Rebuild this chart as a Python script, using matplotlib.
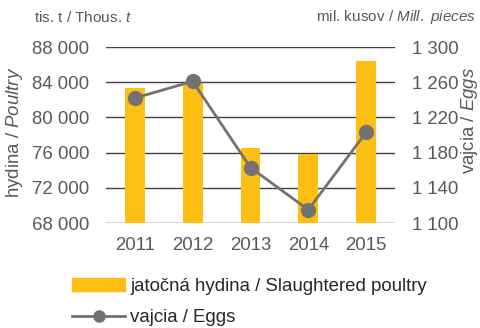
import matplotlib.pyplot as plt
from matplotlib.patches import Patch
from matplotlib.lines import Line2D

plt.rcParams['font.family'] = ['Liberation Sans', 'DejaVu Sans']
plt.rcParams['mathtext.fontset'] = 'custom'
plt.rcParams['mathtext.rm'] = 'Liberation Sans'
plt.rcParams['mathtext.it'] = 'Liberation Sans:italic'

years = ['2011', '2012', '2013', '2014', '2015']
poultry = [83300, 83900, 76500, 75800, 86400]   # tis. t
eggs = [1242, 1261, 1163, 1115, 1203]           # mil. kusov

left_ticks = [68000, 72000, 76000, 80000, 84000, 88000]
right_ticks = [1100, 1140, 1180, 1220, 1260, 1300]

txt = '#595959'
bar_col = '#FDBF13'
line_col = '#767171'
grid_col = '#404040'
fs = 13.4

def fmt(v):
    return f'{v:,}'.replace(',', ' ')

fig = plt.figure(figsize=(4.8, 3.28), dpi=100)
W, H = 480, 328
ax = fig.add_axes([106 / W, 1 - 223 / H, 289 / W, 176 / H])
x = range(len(years))

ax.bar(x, poultry, width=0.34, color=bar_col, zorder=2)
ax.set_ylim(68000, 88000)
ax.set_xlim(-0.5, 4.5)
ax.set_yticks(left_ticks)
ax.set_yticklabels([fmt(v) for v in left_ticks])
ax.set_xticks(list(x))
ax.set_xticklabels(years)
for v in left_ticks:
    ax.axhline(v, color=grid_col, lw=1.0, zorder=1)
for s in ax.spines.values():
    s.set_visible(False)
ax.tick_params(length=0, labelsize=fs, colors=txt, pad=12)
ax.tick_params(axis='x', pad=10)

ax2 = ax.twinx()
ax2.plot(x, eggs, color=line_col, lw=2, marker='o', ms=10, zorder=3)
ax2.set_ylim(1100, 1300)
ax2.set_yticks(right_ticks)
ax2.set_yticklabels([fmt(v) for v in right_ticks])
for s in ax2.spines.values():
    s.set_visible(False)
ax2.tick_params(length=0, labelsize=fs, colors=txt, pad=12)

# axis titles
fig.text(15 / W, 1 - 132 / H, r'hydina / $\mathit{Poultry}$', rotation=90,
         ha='center', va='center', fontsize=13.4, color=txt)
fig.text(470 / W, 1 - 120 / H, r'vajcia / $\mathit{Eggs}$', rotation=90,
         ha='center', va='center', fontsize=13.4, color=txt)
fig.text(34 / W, 1 - 17 / H, r'tis. t / Thous. $\mathit{t}$',
         ha='left', va='center', fontsize=11, color=txt)
fig.text(476 / W, 1 - 17 / H, r'mil. kusov / $\mathit{Mill.\ pieces}$',
         ha='right', va='center', fontsize=11, color=txt)

handles = [Patch(color=bar_col),
           Line2D([], [], color=line_col, lw=2, marker='o', ms=8)]
labels = ['jatočná hydina / Slaughtered poultry', 'vajcia / Eggs']
fig.legend(handles, labels, loc='upper left', bbox_to_anchor=(72 / W, 1 - 278 / H),
           frameon=False, fontsize=fs, labelcolor='#262626',
           handlelength=2.85, handletextpad=0.27, labelspacing=0.77,
           borderpad=0, borderaxespad=0)

fig.savefig('out.png', dpi=100)
